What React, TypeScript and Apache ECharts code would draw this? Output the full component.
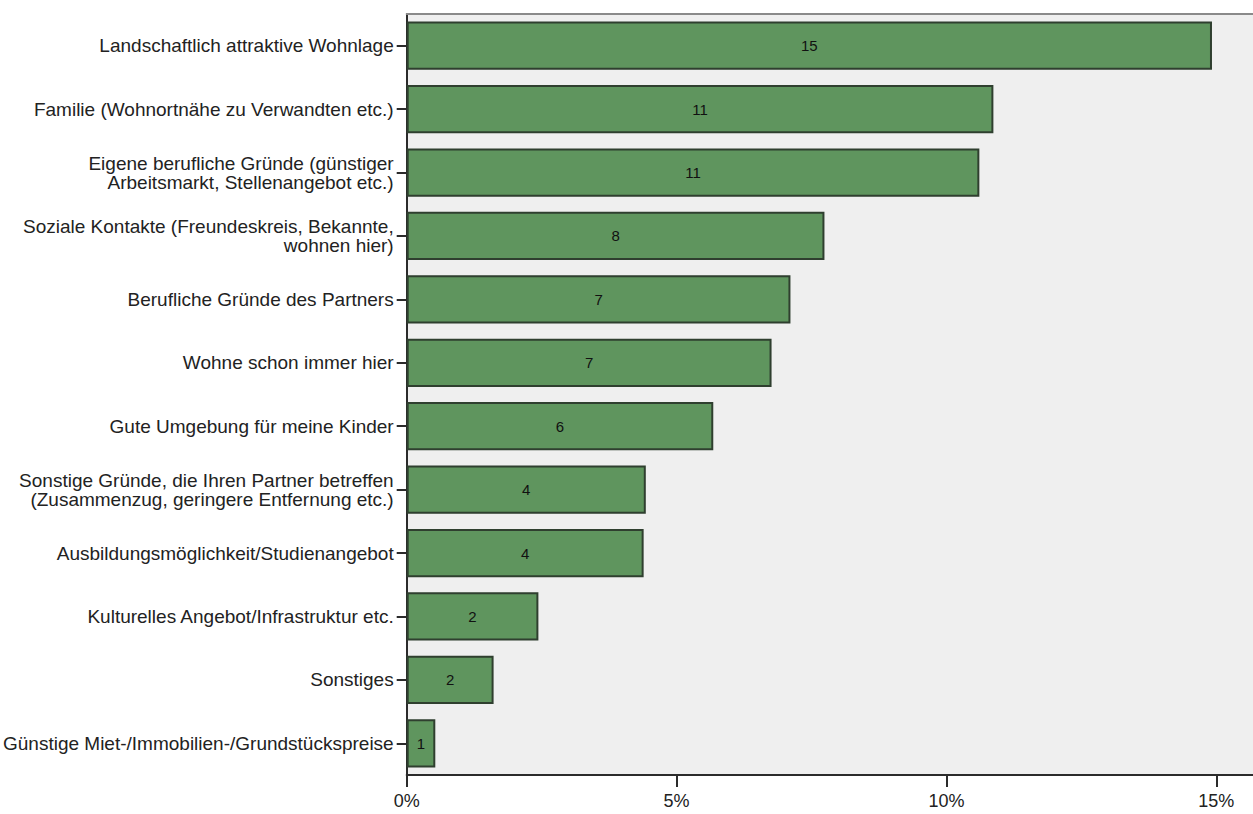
import React, { useEffect, useRef } from "react";
import * as echarts from "echarts";

const categories = [
  "Landschaftlich attraktive Wohnlage",
  "Familie (Wohnortnähe zu Verwandten etc.)",
  "Eigene berufliche Gründe (günstiger\nArbeitsmarkt, Stellenangebot etc.)",
  "Soziale Kontakte (Freundeskreis, Bekannte,\nwohnen hier)",
  "Berufliche Gründe des Partners",
  "Wohne schon immer hier",
  "Gute Umgebung für meine Kinder",
  "Sonstige Gründe, die Ihren Partner betreffen\n(Zusammenzug, geringere Entfernung etc.)",
  "Ausbildungsmöglichkeit/Studienangebot",
  "Kulturelles Angebot/Infrastruktur etc.",
  "Sonstiges",
  "Günstige Miet-/Immobilien-/Grundstückspreise",
];

// share of respondents in percent
const shares = [14.92, 10.87, 10.61, 7.74, 7.11, 6.76, 5.68, 4.43, 4.39, 2.44, 1.61, 0.53];

const xTicks = [0, 5, 10, 15];
const X_MAX = 15.68;

const FONT = "'Liberation Sans', Arial, sans-serif";

export default function App() {
  const ref = useRef<HTMLDivElement>(null);

  useEffect(() => {
    if (!ref.current) return;
    const chart = echarts.init(ref.current, undefined, { renderer: "svg" });
    chart.setOption({
      animation: false,
      backgroundColor: "#ffffff",
      grid: {
        left: 406,
        top: 14,
        width: 852,
        bottom: 39,
        show: true,
        backgroundColor: "#efefef",
        borderWidth: 0,
      },
      xAxis: [
        {
          type: "value",
          min: xTicks[0],
          max: X_MAX,
          interval: 5,
          splitLine: { show: false },
          axisLine: { show: true, lineStyle: { color: "#2b2b2b", width: 2 } },
          axisTick: { show: true, length: 12, lineStyle: { color: "#2b2b2b", width: 2 } },
          axisLabel: {
            showMaxLabel: false,
            color: "#222",
            fontFamily: FONT,
            fontSize: 18,
            margin: 17,
            formatter: (v: number) => (xTicks.includes(v) ? `${v}%` : ""),
          },
        },
        {
          // frame line along the top of the plot area
          type: "value",
          position: "top",
          min: xTicks[0],
          max: X_MAX,
          interval: 5,
          splitLine: { show: false },
          axisTick: { show: false },
          axisLabel: { show: false },
          axisLine: { show: true, lineStyle: { color: "#8a8a8a", width: 2 } },
        },
      ],
      yAxis: {
        type: "category",
        inverse: true,
        data: categories,
        axisLine: { show: true, lineStyle: { color: "#2b2b2b", width: 2 } },
        axisTick: { show: true, alignWithLabel: true, length: 10, lineStyle: { color: "#2b2b2b", width: 2 } },
        axisLabel: {
          color: "#222",
          fontFamily: FONT,
          fontSize: 19,
          lineHeight: 19,
          margin: 13,
        },
      },
      series: [
        {
          type: "bar",
          xAxisIndex: 0,
          data: shares,
          barCategoryGap: "24%",
          itemStyle: { color: "#5f955e", borderColor: "#2f3f2f", borderWidth: 2 },
          label: {
            show: true,
            position: "inside",
            color: "#111",
            fontFamily: FONT,
            fontSize: 15,
            formatter: (p: any) => String(Math.round(p.value)),
          },
        },
      ],
    });
    return () => chart.dispose();
  }, []);

  return (
    <div
      ref={ref}
      style={{ position: "fixed", left: 0, top: 0, width: 1253, height: 814 }}
    />
  );
}
